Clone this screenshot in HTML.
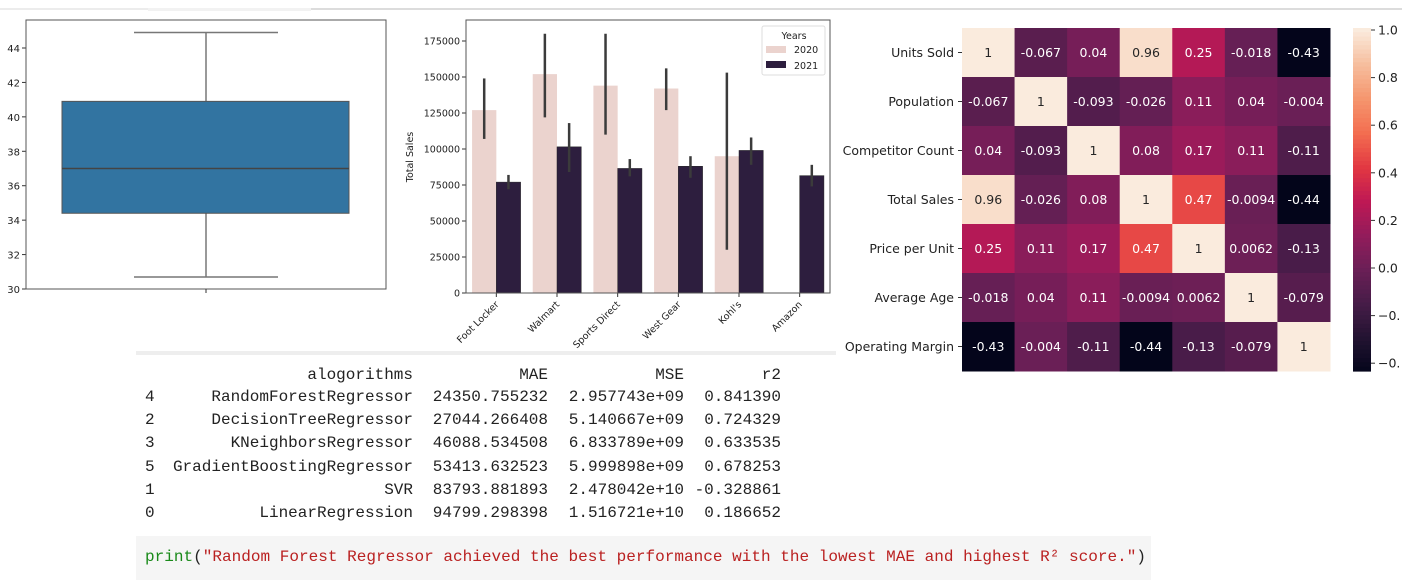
<!DOCTYPE html>
<html><head><meta charset="utf-8"><style>
html,body{margin:0;padding:0;background:#fff;width:1402px;height:580px;overflow:hidden}
svg{display:block;font-family:"DejaVu Sans","Liberation Sans",sans-serif}
.mono{font-family:"Liberation Mono","DejaVu Sans Mono",monospace}
</style></head><body>
<svg id="root" width="1402" height="580" viewBox="0 0 1402 580">
<rect x="0" y="8" width="148" height="2" fill="#ececec"/>
<rect x="148" y="8" width="163" height="3" fill="#f2f2f2"/>
<rect x="311" y="8" width="1091" height="2" fill="#dcdcdc"/>
<g id="box"></g>
<g id="bar"></g>
<g id="heat"></g>
<rect x="136" y="351" width="700" height="4" fill="#eeeeee"/>
<g id="table" class="mono" font-size="16" fill="#222"></g>
<rect x="136" y="536" width="1015" height="44" fill="#f5f5f5"/>
<text class="mono" x="145" y="561" font-size="16" textLength="1001" lengthAdjust="spacingAndGlyphs"><tspan fill="#1a8a1a">print</tspan><tspan fill="#222">(</tspan><tspan fill="#ba2121">"Random Forest Regressor achieved the best performance with the lowest MAE and highest R² score."</tspan><tspan fill="#222">)</tspan></text>
</svg>
<script>
const NS='http://www.w3.org/2000/svg';
function mk(parent,tag,attrs,txt){const e=document.createElementNS(NS,tag);for(const k in attrs)e.setAttribute(k,attrs[k]);if(txt!==undefined)e.textContent=txt;parent.appendChild(e);return e;}

// ---------- Boxplot data ----------
const boxTicks=[30,32,34,36,38,40,42,44];
const boxStats=[30.7,34.4,37.0,40.9,44.9]; // min,q1,median,q3,max
// ---------- Bar data ----------
const stores=["Foot Locker","Walmart","Sports Direct","West Gear","Kohl's","Amazon"];
const sales2020=[127000,152000,144000,142000,95000,null];
const sales2021=[77000,101500,86500,88000,99000,81500];
const err2020Lo=[107000,122000,110000,127000,30000,null];
const err2020Hi=[149000,180000,180000,156000,153000,null];
const err2021Lo=[72000,84000,81000,80000,89000,74000];
const err2021Hi=[82000,118000,93000,95000,108000,89000];
const barTicks=[0,25000,50000,75000,100000,125000,150000,175000];
// ---------- Heatmap data ----------
const vars=["Units Sold","Population","Competitor Count","Total Sales","Price per Unit","Average Age","Operating Margin"];
const corr=[
[1,-0.067,0.04,0.96,0.25,-0.018,-0.43],
[-0.067,1,-0.093,-0.026,0.11,0.04,-0.004],
[0.04,-0.093,1,0.08,0.17,0.11,-0.11],
[0.96,-0.026,0.08,1,0.47,-0.0094,-0.44],
[0.25,0.11,0.17,0.47,1,0.0062,-0.13],
[-0.018,0.04,0.11,-0.0094,0.0062,1,-0.079],
[-0.43,-0.004,-0.11,-0.44,-0.13,-0.079,1]];
const cbTicks=[1.0,0.8,0.6,0.4,0.2,0.0,-0.2,-0.4];
const cbLabels=["1.0","0.8","0.6","0.4","0.2","0.0","\u22120.","\u22120."];
// ---------- Table data ----------
const tIdx=["4","2","3","5","1","0"];
const tAlg=["RandomForestRegressor","DecisionTreeRegressor","KNeighborsRegressor","GradientBoostingRegressor","SVR","LinearRegression"];
const tMAE=["24350.755232","27044.266408","46088.534508","53413.632523","83793.881893","94799.298398"];
const tMSE=["2.957743e+09","5.140667e+09","6.833789e+09","5.999898e+09","2.478042e+10","1.516721e+10"];
const tR2=["0.841390","0.724329","0.633535","0.678253","-0.328861","0.186652"];

// ===== Boxplot =====
(function(){
const g=document.getElementById('box');
const L=26,R=386,T=20,B=289;
const y=v=>B-(v-30)/(44-30)*(B-48);
boxTicks.forEach(t=>{
 const tk=mk(g,'line',{x1:L-4,x2:L,y1:y(t),y2:y(t),stroke:'#333'});
 
 
 const lb=mk(g,'text',{x:L-6,y:y(t)+4,'font-size':10,'text-anchor':'end',fill:'#222'},String(t));
 
 
});
const cx=206;
const w1=mk(g,'line',{x1:cx,x2:cx,y1:y(boxStats[0]),y2:y(boxStats[1]),stroke:'#777','stroke-width':1.5});

const w2=mk(g,'line',{x1:cx,x2:cx,y1:y(boxStats[3]),y2:y(boxStats[4]),stroke:'#777','stroke-width':1.5});

const c1=mk(g,'line',{x1:134,x2:278,y1:y(boxStats[0]),y2:y(boxStats[0]),stroke:'#777','stroke-width':1.5});

const c2=mk(g,'line',{x1:134,x2:278,y1:y(boxStats[4]),y2:y(boxStats[4]),stroke:'#777','stroke-width':1.5});

const bx=mk(g,'rect',{x:62,y:y(boxStats[3]),width:287,height:y(boxStats[1])-y(boxStats[3]),fill:'#3274a1',stroke:'#555','stroke-width':1});

const md=mk(g,'line',{x1:62,x2:349,y1:y(boxStats[2]),y2:y(boxStats[2]),stroke:'#444','stroke-width':1.5});

const fr=mk(g,'rect',{x:L,y:T,width:R-L,height:B-T,fill:'none',stroke:'#555','stroke-width':1});

mk(g,'line',{x1:cx,x2:cx,y1:B,y2:B+4,stroke:'#333'});
})();

// ===== Bar chart =====
(function(){
const g=document.getElementById('bar');
const L=466,R=830,T=20,B=293;
const y=v=>B-v/175000*(B-41);
const gw=(R-L)/stores.length;
barTicks.forEach(t=>{
 const tk=mk(g,'line',{x1:L-4,x2:L,y1:y(t),y2:y(t),stroke:'#333'});
 
 const lb=mk(g,'text',{x:L-6,y:y(t)+3.5,'font-size':9.5,'text-anchor':'end',fill:'#222'},String(t));
 
});
const yt=mk(g,'text',{x:0,y:0,'font-size':9.5,'text-anchor':'middle',fill:'#222',transform:'translate(413,157) rotate(-90)'},'Total Sales');

stores.forEach((s,i)=>{
 const c=L+gw*(i+0.5);
 if(sales2020[i]!==null){
  const b=mk(g,'rect',{x:c-gw*0.4,y:y(sales2020[i]),width:gw*0.4,height:B-y(sales2020[i]),fill:'#ebd3ce'});
  
 }
 const b2=mk(g,'rect',{x:c,y:y(sales2021[i]),width:gw*0.4,height:B-y(sales2021[i]),fill:'#2d1e3e',stroke:'#222','stroke-width':0.5});
 
 if(err2020Lo[i]!==null){
  const e=mk(g,'line',{x1:c-gw*0.2,x2:c-gw*0.2,y1:y(err2020Lo[i]),y2:y(err2020Hi[i]),stroke:'#3b3b3b','stroke-width':2.5});
  
 }
 const e2=mk(g,'line',{x1:c+gw*0.2,x2:c+gw*0.2,y1:y(err2021Lo[i]),y2:y(err2021Hi[i]),stroke:'#3b3b3b','stroke-width':2.5});
 
 mk(g,'line',{x1:c,x2:c,y1:B,y2:B+4,stroke:'#333'});
 const lb=mk(g,'text',{x:0,y:0,'font-size':9.5,'text-anchor':'end',fill:'#222',transform:`translate(${c+3},${B+12}) rotate(-45)`},s);
 
});
const fr=mk(g,'rect',{x:L,y:T,width:R-L,height:B-T,fill:'none',stroke:'#555','stroke-width':1});

const lg=mk(g,'g',{});

mk(lg,'rect',{x:762,y:26,width:63,height:49,fill:'#fff',stroke:'#ddd',rx:2});
mk(lg,'text',{x:794,y:39,'font-size':9.5,'text-anchor':'middle',fill:'#222'},'Years');
const l1=mk(lg,'rect',{x:766,y:46,width:20,height:7,fill:'#ebd3ce'});

mk(lg,'text',{x:794,y:53,'font-size':9.5,fill:'#222'},'2020');
const l2=mk(lg,'rect',{x:766,y:61,width:20,height:7,fill:'#2d1e3e'});

mk(lg,'text',{x:794,y:69,'font-size':9.5,fill:'#222'},'2021');
})();

// ===== Heatmap =====
const stops=[[0,[3,5,26]],[0.1,[34,19,49]],[0.2,[69,28,71]],[0.3,[106,31,86]],[0.4,[146,28,91]],[0.5,[190,24,84]],[0.6,[226,56,66]],[0.7,[243,110,80]],[0.8,[245,150,110]],[0.9,[246,190,158]],[1,[250,235,221]]];
function cmap(v){let t=(v+0.434)/1.434;t=Math.max(0,Math.min(1,t));
 for(let i=1;i<stops.length;i++){if(t<=stops[i][0]){const a=stops[i-1],b=stops[i],f=(t-a[0])/(b[0]-a[0]);
 return 'rgb('+a[1].map((c,k)=>Math.round(c+(b[1][k]-c)*f)).join(',')+')';}}return 'rgb(250,235,221)';}
(function(){
const g=document.getElementById('heat');
const L=962,T=28,W=368,H=343,n=vars.length,cw=W/n,ch=H/n;
vars.forEach((v,r)=>{
 mk(g,'line',{x1:L-4,x2:L,y1:T+ch*(r+0.5),y2:T+ch*(r+0.5),stroke:'#333'});
 const lb=mk(g,'text',{x:L-8,y:T+ch*(r+0.5)+4.5,'font-size':12.5,'text-anchor':'end',fill:'#222'},v);
 
 corr[r].forEach((val,c)=>{
  const cell=mk(g,'rect',{x:L+c*cw,y:T+r*ch,width:cw+0.5,height:ch+0.5,fill:cmap(val)});
  
  const tx=mk(g,'text',{x:L+c*cw+cw/2,y:T+r*ch+ch/2+4.5,'font-size':12.5,'text-anchor':'middle',fill:val>0.6?'#262626':'#fff'},String(val));
  
 });
});
const cbL=1353,cbW=18,cbT=28,cbB=371;
const cy=v=>cbT+2+(1.0-v)/0.2*47.6;
const N=80;
for(let i=0;i<N;i++){
 const v1=1.0-(i/N)*1.434;
 mk(g,'rect',{x:cbL,y:cbT+i*(cbB-cbT)/N,width:cbW,height:(cbB-cbT)/N+0.6,fill:cmap(v1)});
}
const cbf=mk(g,'rect',{x:cbL,y:cbT,width:cbW,height:cbB-cbT,fill:'none',stroke:'none'});

cbTicks.forEach((t,i)=>{
 mk(g,'line',{x1:cbL+cbW,x2:cbL+cbW+4,y1:cy(t),y2:cy(t),stroke:'#333'});
 const lb=mk(g,'text',{x:cbL+cbW+7,y:cy(t)+4.5,'font-size':12.5,fill:'#222'},cbLabels[i]);
 
});
})();

// ===== Table =====
(function(){
const g=document.getElementById('table');
const rowY=[379,401,424,447,471,494,517];
const hdr=[['alogorithms',413],['MAE',548],['MSE',684],['r2',781]];
hdr.forEach(h=>{const t=mk(g,'text',{x:h[1],y:rowY[0],'text-anchor':'end'},h[0]);
 });
tIdx.forEach((ix,i)=>{
 const yy=rowY[i+1];
 const a=mk(g,'text',{x:145,y:yy},ix);
 
 const b=mk(g,'text',{x:413,y:yy,'text-anchor':'end'},tAlg[i]);
 
 const c=mk(g,'text',{x:548,y:yy,'text-anchor':'end'},tMAE[i]);
 
 const d=mk(g,'text',{x:684,y:yy,'text-anchor':'end'},tMSE[i]);
 
 const e=mk(g,'text',{x:781,y:yy,'text-anchor':'end'},tR2[i]);
 
});
})();
</script>
</body></html>
